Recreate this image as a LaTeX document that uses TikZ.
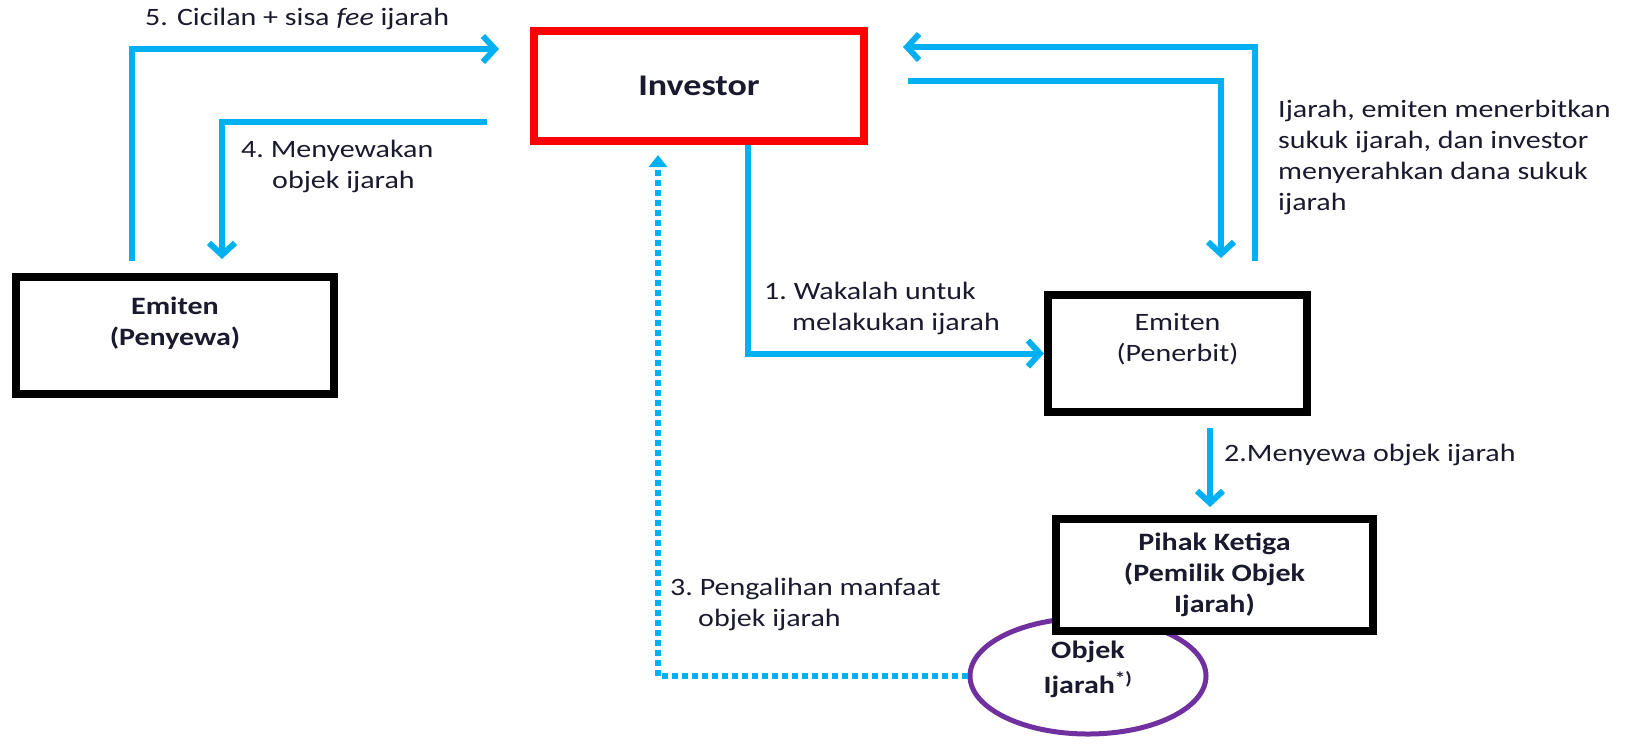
\documentclass[tikz,border=0pt]{standalone}
\usepackage{fontspec}
\setmainfont{Carlito}[FakeStretch=1.2]
\usetikzlibrary{arrows.meta,calc,shapes.geometric}
\definecolor{flowblue}{HTML}{00B0F0}
\definecolor{boxred}{HTML}{FF0000}
\definecolor{objpurple}{HTML}{7030A0}
\definecolor{ink}{HTML}{1A1A2E}

\begin{document}
\begin{tikzpicture}[x=1pt,y=-1pt,
  every node/.style={font=\fontsize{25}{31}\selectfont, text=ink, inner sep=0pt},
  partybox/.style={draw=black, line width=8pt, fill=white, rectangle, inner sep=0pt},
  boxtext/.style={font=\fontsize{25}{31}\selectfont\bfseries, align=center, text=ink},
  steplabel/.style={align=left},
  flow/.style={draw=flowblue, line width=6pt, line join=miter,
    -{Straight Barb[length=12pt,width=26pt]}},
  dotflow/.style={draw=flowblue, line width=6pt, dash pattern=on 6pt off 4pt,
    -{Triangle[length=12pt,width=18pt]}},
]
\useasboundingbox (0,0) rectangle (1629,745);

% parties
\node[partybox, draw=boxred, minimum width=330pt, minimum height=110pt,
  font=\fontsize{30}{36}\selectfont\bfseries] (inv) at (699,86) {Investor};
\node[partybox, minimum width=318pt, minimum height=117pt,
  label={[boxtext, yshift=12pt]center:Emiten\\(Penyewa)}] (peny) at (175,335.5) {};
\node[partybox, minimum width=259pt, minimum height=117pt,
  label={[boxtext, font=\fontsize{25}{31}\selectfont, yshift=14pt]center:Emiten\\(Penerbit)}] (pen) at (1177.5,353.5) {};

% object of the lease, partly hidden behind the owner box
\node[ellipse, draw=objpurple, line width=5pt, minimum width=236pt, minimum height=116pt,
  label={[boxtext, font=\fontsize{25}{35}\selectfont\bfseries, yshift=7pt]center:Objek\\Ijarah\textsuperscript{*)}}] (obj) at (1088,676) {};
\node[partybox, minimum width=317pt, minimum height=112pt, boxtext, yshift=-3pt] (pih) at (1214.5,572)
  {Pihak Ketiga\\(Pemilik Objek\\Ijarah)};

% helper coordinates for the routed connectors
\coordinate (x1) at (748,0);
\coordinate (x2) at (1210,0);
\coordinate (x3) at (658,0);
\coordinate (x4) at (222,0);
\coordinate (y4) at (0,122);
\coordinate (x5) at (132,0);
\coordinate (y5) at (0,49);
\coordinate (x6) at (1255,0);
\coordinate (y6) at (0,47);
\coordinate (x7) at (1221,0);
\coordinate (y7) at (0,81);

% 1. wakalah
\draw[flow] (inv.south -| x1) |- (pen.west);
% 2. lease from the third party
\draw[flow, shorten <=12pt, shorten >=8pt] (pen.south -| x2) -- (pih.north -| x2);
% 3. transfer of benefit
\draw[dotflow, shorten >=10pt] (obj.west) -| (inv.south -| x3);
% 4. sublease to the lessee
\draw[flow, shorten <=43pt, shorten >=14pt] (inv.west |- y4) -| (peny.north -| x4);
% 5. instalments
\draw[flow, shorten <=12pt, shorten >=31pt] (peny.north -| x5) |- (inv.west |- y5);
% issuance and funds
\draw[flow, shorten <=30pt, shorten >=35pt] (pen.north -| x6) |- (inv.east |- y6);
\draw[flow, shorten <=40pt, shorten >=33pt] (inv.east |- y7) -| (pen.north -| x7);

% labels
\node[anchor=west] (l5) at (145,19) {5. Cicilan + sisa \textit{fee} ijarah};
\node[steplabel, anchor=north west] (l4) at (241,140) {4.\ Menyewakan\\\hspace*{31pt}objek ijarah};
\node[steplabel, anchor=north west] (l1) at (764,282) {1.\ Wakalah untuk\\\hspace*{28pt}melakukan ijarah};
\node[anchor=west] (l2) at (1224,455) {2.Menyewa objek ijarah};
\node[steplabel, anchor=north west] (l3) at (670,578) {3.\ Pengalihan manfaat\\\hspace*{28pt}objek ijarah};
\node[steplabel, anchor=north west] (lr) at (1278,100)
  {Ijarah, emiten menerbitkan\\sukuk ijarah, dan investor\\menyerahkan dana sukuk\\ijarah};
\end{tikzpicture}
\end{document}
